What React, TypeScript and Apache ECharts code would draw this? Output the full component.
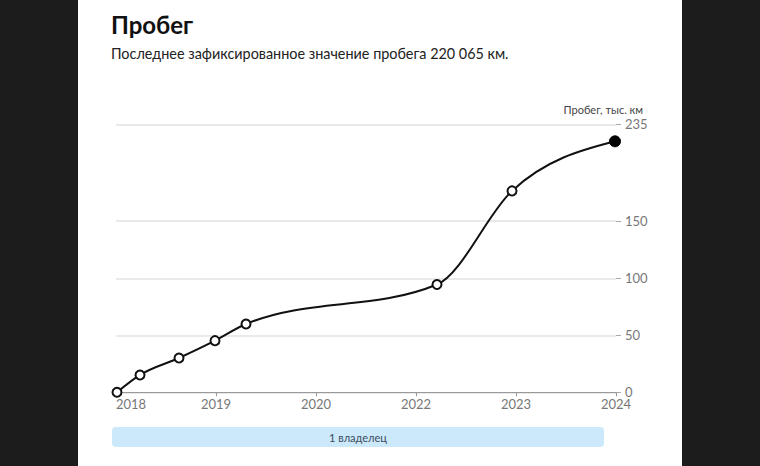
import React, { useEffect, useRef } from "react";
import * as echarts from "echarts";

// Data
const xLabels = ["2018", "2019", "2020", "2022", "2023", "2024"];
const xPos = [0.01, 0.24, 0.63, 0.99, 1.3, 3.21, 3.96, 4.99];
const mileage = [0, 15.2, 30.1, 45.3, 59.9, 94.5, 176.6, 220.065];
const yTicks = [0, 50, 100, 150, 235];
const titleText = "Пробег";
const subtitleText = "Последнее зафиксированное значение пробега 220\u202F065\u00A0км.";
const axisName = "Пробег, тыс. км";
const ownerLabel = "1 владелец";

const FONT = "Lato, 'Open Sans', sans-serif";

// Monotone-X cubic tangents (Fritsch–Carlson style, as in d3.curveMonotoneX)
function monotoneTangents(xs: number[], ys: number[]): number[] {
  const n = xs.length;
  const m = new Array(n).fill(0);
  const sign = (v: number) => (v < 0 ? -1 : 1);
  for (let i = 1; i < n - 1; i++) {
    const h0 = xs[i] - xs[i - 1];
    const h1 = xs[i + 1] - xs[i];
    const s0 = (ys[i] - ys[i - 1]) / h0;
    const s1 = (ys[i + 1] - ys[i]) / h1;
    const p = (s0 * h1 + s1 * h0) / (h0 + h1);
    m[i] = (sign(s0) + sign(s1)) * Math.min(Math.abs(s0), Math.abs(s1), 0.5 * Math.abs(p)) || 0;
  }
  const hs = xs[1] - xs[0];
  m[0] = (3 * (ys[1] - ys[0]) / hs - m[1]) / 2;
  const he = xs[n - 1] - xs[n - 2];
  m[n - 1] = (3 * (ys[n - 1] - ys[n - 2]) / he - m[n - 2]) / 2;
  return m;
}

export default function App() {
  const ref = useRef<HTMLDivElement>(null);

  useEffect(() => {
    document.body.style.margin = "0";
    if (!ref.current) return;
    const chart = echarts.init(ref.current, undefined, { renderer: "svg" });
    const last = mileage.length - 1;
    const points = xPos.map((x, i) => [x, mileage[i]]);
    const tangents = monotoneTangents(xPos, mileage);

    const markerData = points.map((p, i) => {
      if (i === last) {
        return {
          value: p,
          symbolSize: 11,
          itemStyle: { color: "#000", borderColor: "#000", borderWidth: 1, opacity: 1 },
        };
      }
      return { value: p };
    });

    chart.setOption({
      animation: false,
      textStyle: { fontFamily: FONT },
      title: {
        text: titleText,
        subtext: subtitleText,
        left: 106,
        top: 7,
        itemGap: 10,
        textStyle: { fontFamily: FONT, fontSize: 24, fontWeight: "bold", color: "#111" },
        subtextStyle: { fontFamily: FONT, fontSize: 14.4, color: "#222" },
      },
      grid: { left: 116, right: 144, top: 124.3, bottom: 73.7, containLabel: false },
      xAxis: {
        type: "value",
        min: 0,
        max: 5,
        interval: 1,
        axisLine: { show: true, onZero: false, lineStyle: { color: "#999", width: 1 } },
        axisTick: { show: true, length: 4, lineStyle: { color: "#999" } },
        splitLine: { show: false },
        axisLabel: {
          color: "#777",
          fontSize: 13,
          lineHeight: 11,
          margin: 6,
          fontFamily: FONT,
          alignMinLabel: "left",
          formatter: (v: number) => xLabels[Math.round(v)] ?? "",
        },
      },
      yAxis: {
        type: "value",
        position: "right",
        min: 0,
        max: 235,
        axisLine: { show: false, onZero: false },
        axisTick: {
          show: true,
          length: 5,
          customValues: yTicks,
          lineStyle: { color: "#aaa" },
        },
        splitLine: { show: true, lineStyle: { color: "#e3e3e3", width: 1.5 } },
        axisLabel: {
          customValues: yTicks,
          color: "#777",
          fontSize: 13,
          lineHeight: 11,
          margin: 9,
          fontFamily: FONT,
        },
      },
      graphic: [
        {
          type: "text",
          right: 760 - 643,
          top: 104,
          style: { text: axisName, fontSize: 11, fill: "#444", fontFamily: FONT },
        },
        {
          type: "rect",
          shape: { x: 112, y: 427, width: 492, height: 20, r: 4 },
          style: { fill: "#cce9fb" },
        },
        {
          type: "text",
          x: 358,
          y: 437,
          style: {
            text: ownerLabel,
            fontSize: 11,
            fill: "#3b4b5c",
            align: "center",
            verticalAlign: "middle",
            fontFamily: FONT,
          },
        },
      ],
      series: [
        {
          type: "custom",
          data: points,
          encode: { x: 0, y: 1 },
          silent: true,
          z: 3,
          renderItem: (params: any, api: any) => {
            if (params.dataIndex !== 0) return null;
            const c = (x: number, y: number) => api.coord([x, y]);
            const p0 = c(points[0][0], points[0][1]);
            let d = `M${p0[0]},${p0[1]}`;
            for (let i = 0; i < points.length - 1; i++) {
              const x0 = points[i][0], y0 = points[i][1];
              const x1 = points[i + 1][0], y1 = points[i + 1][1];
              const h = (x1 - x0) / 3;
              const a = c(x0 + h, y0 + h * tangents[i]);
              const b = c(x1 - h, y1 - h * tangents[i + 1]);
              const e = c(x1, y1);
              d += ` C${a[0]},${a[1]} ${b[0]},${b[1]} ${e[0]},${e[1]}`;
            }
            return {
              type: "path",
              shape: { pathData: d },
              style: { fill: "none", stroke: "#111", lineWidth: 2 },
            };
          },
        },
        {
          type: "scatter",
          data: markerData,
          symbol: "circle",
          symbolSize: 9,
          itemStyle: { color: "#fff", borderColor: "#111", borderWidth: 2, opacity: 1 },
          z: 5,
        },
      ],
    });
    return () => chart.dispose();
  }, []);

  return (
    <div style={{ position: "absolute", left: 0, top: 0, width: 760, height: 466, background: "#1c1c1c" }}>
      <div style={{ position: "absolute", left: 78, top: 0, width: 604, height: 466, background: "#fff" }} />
      <div ref={ref} style={{ position: "absolute", left: 0, top: 0, width: 760, height: 466 }} />
    </div>
  );
}
